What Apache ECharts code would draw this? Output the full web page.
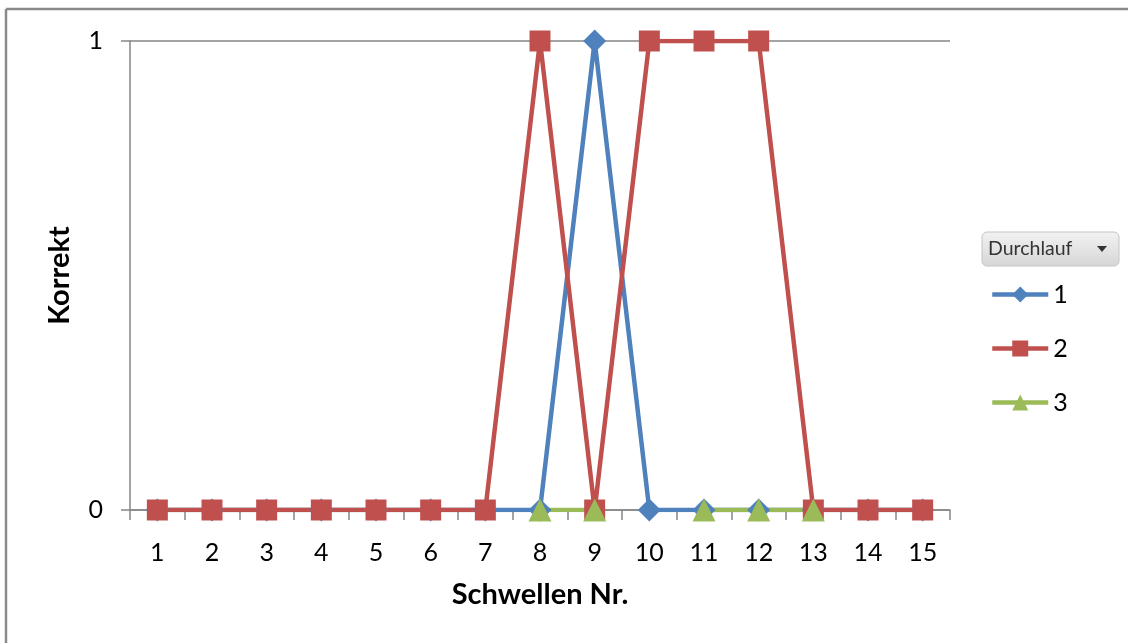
<!DOCTYPE html>
<html><head><meta charset="utf-8">
<script src="https://cdn.jsdelivr.net/npm/echarts@6/dist/echarts.min.js"></script>
<style>html,body{margin:0;padding:0;background:#fff}#c{width:1128px;height:643px}</style>
</head><body><div id="c"></div>
<script>
const categories = ['1','2','3','4','5','6','7','8','9','10','11','12','13','14','15'];
const seriesNames = ['1','2','3'];
const run1 = [0,0,0,0,0,0,0,0,1,0,0,0,0,0,0];
const run2 = [0,0,0,0,0,0,0,1,0,1,1,1,0,0,0];
const run3 = [null,null,null,null,null,null,null,0,0,null,0,0,0,null,null];
const yTicks = [0,1];
const colors = ['#4F81BD','#C0504D','#9BBB59'];
const FONT = 'Lato, "Open Sans", sans-serif';

const chart = echarts.init(document.getElementById('c'));
chart.setOption({
  animation:false,
  color: colors,
  textStyle:{fontFamily:FONT},
  grid:{left:130,right:178,top:41,bottom:133,containLabel:false},
  xAxis:{
    type:'category', data:categories, boundaryGap:true,
    name:'Schwellen Nr.', nameLocation:'middle', nameGap:70,
    nameTextStyle:{fontSize:29,fontWeight:'bold',color:'#000',fontFamily:FONT},
    axisLine:{lineStyle:{color:'#868686',width:1.5}},
    axisTick:{show:true,inside:false,length:10,alignWithLabel:false,lineStyle:{color:'#868686',width:1.5}},
    axisLabel:{fontSize:25,color:'#000',margin:30,fontFamily:FONT},
    splitLine:{show:false}
  },
  yAxis:{
    type:'value', min:0, max:1, interval:1,
    name:'Korrekt', nameLocation:'middle', nameGap:56, nameRotate:90,
    nameTextStyle:{fontSize:29,fontWeight:'bold',color:'#000',fontFamily:FONT},
    axisLine:{show:true,lineStyle:{color:'#868686',width:1.5}},
    axisTick:{show:true,inside:false,length:9,lineStyle:{color:'#868686',width:1.5}},
    axisLabel:{fontSize:25,color:'#000',margin:27,fontFamily:FONT,
      formatter:function(v){return yTicks.indexOf(v)>=0?String(v):'';}},
    splitLine:{show:true,lineStyle:{color:'#868686',width:1.5}}
  },
  legend:{
    orient:'vertical', left:985, top:277, data:seriesNames,
    itemWidth:56, itemHeight:20, itemGap:29,
    lineStyle:{width:4.5},
    textStyle:{fontSize:25,color:'#000',fontFamily:FONT,lineHeight:25}
  },
  series:[
    {name:seriesNames[0],type:'line',data:run1,symbol:'diamond',symbolSize:23,
     lineStyle:{width:4.5,color:colors[0]},itemStyle:{color:colors[0]},connectNulls:false},
    {name:seriesNames[1],type:'line',data:run2,symbol:'rect',symbolSize:21,
     lineStyle:{width:4.5,color:colors[1]},itemStyle:{color:colors[1]},connectNulls:false},
    {name:seriesNames[2],type:'line',data:run3,symbol:'triangle',symbolSize:23,
     lineStyle:{width:4.5,color:colors[2]},itemStyle:{color:colors[2]},connectNulls:false}
  ],
  graphic:[
    {type:'line',shape:{x1:6,y1:9,x2:1128,y2:9},style:{stroke:'#8a8a8a',lineWidth:2.5}},
    {type:'line',shape:{x1:6,y1:9,x2:6,y2:643},style:{stroke:'#8a8a8a',lineWidth:2.5}},
    {type:'rect',shape:{x:982,y:232,width:137,height:34,r:5},
     style:{fill:new echarts.graphic.LinearGradient(0,0,0,1,[{offset:0,color:'#f2f2f2'},{offset:1,color:'#d6d6d6'}]),stroke:'#c4c4c4',lineWidth:1}},
    {type:'text',x:988,y:249,style:{text:'Durchlauf',fontSize:19.5,fill:'#333',fontFamily:FONT,verticalAlign:'middle'}},
    {type:'polygon',shape:{points:[[1097,246],[1107,246],[1102,252]]},style:{fill:'#333'}}
  ]
});
</script></body></html>
